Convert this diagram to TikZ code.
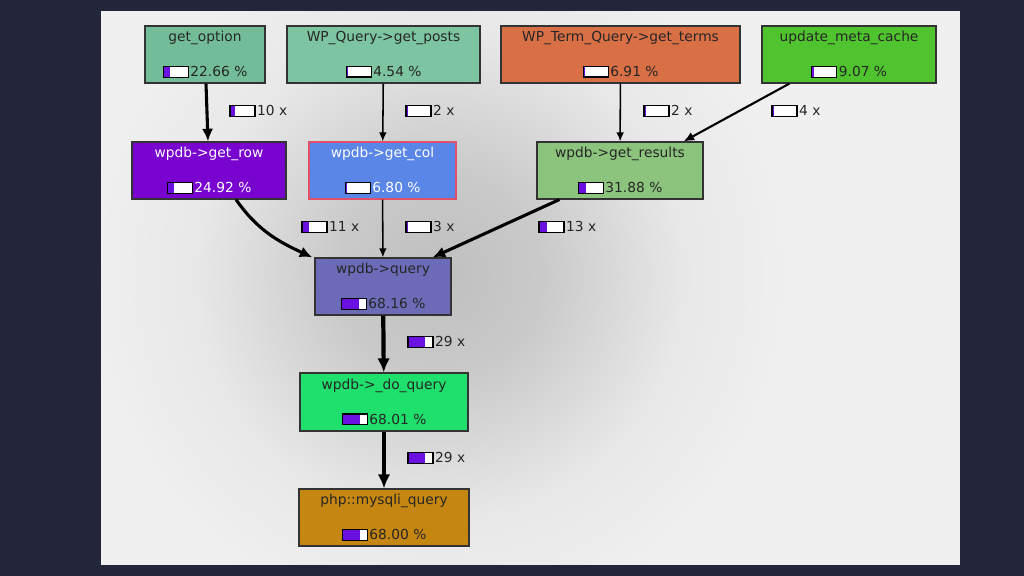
\documentclass[tikz,border=0pt]{standalone}
\usepackage{fontspec}
\setmainfont{DejaVu Sans}
\usepackage{xcolor}
\usetikzlibrary{arrows.meta,positioning}

\definecolor{bgdark}{HTML}{23263A}
\definecolor{panel}{HTML}{F0F0F0}
\definecolor{barpurple}{HTML}{6A10E0}
\definecolor{optgreen}{HTML}{72BD97}
\definecolor{postgreen}{HTML}{7DC4A0}
\definecolor{termorange}{HTML}{D86F45}
\definecolor{metagreen}{HTML}{4FC42E}
\definecolor{rowpurple}{HTML}{7A04CF}
\definecolor{colblue}{HTML}{5A86E8}
\definecolor{colred}{HTML}{E0506A}
\definecolor{resgreen}{HTML}{8CC47D}
\definecolor{queryslate}{HTML}{6B6BB8}
\definecolor{doqgreen}{HTML}{1FE06C}
\definecolor{mysqlgold}{HTML}{C68612}

\pgfdeclareradialshading{panelglow}{\pgfpoint{0bp}{0bp}}{%
  color(0bp)=(black!25); color(7bp)=(black!21); color(17bp)=(black!9); color(25bp)=(panel); color(50bp)=(panel)}

\newlength{\barw}\setlength{\barw}{17pt}
\newlength{\barh}\setlength{\barh}{6.8pt}
\newcommand{\pbar}[1]{{\setlength{\fboxsep}{0pt}\setlength{\fboxrule}{0.9pt}%
  \fcolorbox{black}{white}{\textcolor{barpurple}{\rule{#1\barw}{\barh}}\hspace*{\dimexpr\barw-#1\barw\relax}}}\hspace{1pt}}

\begin{document}
\begin{tikzpicture}[
    x=0.025cm, y=-0.025cm,
    fn/.style={rectangle, draw=black!80, line width=0.8pt, minimum height=1.425cm, align=center, inner sep=0pt, font=\fontsize{9.8}{12}\selectfont, text=black!85},
    cnt/.style={anchor=west, inner sep=0pt, font=\fontsize{9.8}{12}\selectfont, text=black!85},
    thin/.style={line width=1.1pt, -{Latex[length=6.5pt,width=5.5pt]}},
    mid/.style={line width=1.5pt, -{Latex[length=7.5pt,width=6.5pt]}},
    heavy/.style={line width=2.2pt, -{Latex[length=9pt,width=8pt]}},
    heaviest/.style={line width=3pt, -{Latex[length=10pt,width=9pt]}}
]

% backdrop and panel
\fill[bgdark] (0,0) rectangle (1024,576);
\fill[panel] (101,11) rectangle (960,565);
\begin{scope}
  \clip (102,12) rectangle (959,564);
  \shade[shading=panelglow] (440,275) circle (9cm);
\end{scope}

% Callers (top row)
\node[fn, fill=optgreen, minimum width=3cm] (gopt) at (205,54.5) {get\_option\\[12.9pt]\pbar{0.25}22.66 \%};
\node[fn, fill=postgreen, minimum width=4.825cm] (gposts) at (383.5,54.5) {WP\_Query->get\_posts\\[12.9pt]\pbar{0.03}4.54 \%};
\node[fn, fill=termorange, minimum width=5.975cm] (gterms) at (620.5,54.5) {WP\_Term\_Query->get\_terms\\[12.9pt]\pbar{0.05}6.91 \%};
\node[fn, fill=metagreen, minimum width=4.35cm] (umeta) at (849,54.5) {update\_meta\_cache\\[12.9pt]\pbar{0.07}9.07 \%};

% wpdb helpers
\node[fn, fill=rowpurple, text=white, minimum width=3.85cm] (grow) at (209,170.5) {wpdb->get\_row\\[12.9pt]\pbar{0.25}24.92 \%};
\node[fn, fill=colblue, draw=colred, text=white, minimum width=3.675cm] (gcol) at (382.5,170.5) {wpdb->get\_col\\[12.9pt]\pbar{0.06}6.80 \%};
\node[fn, fill=resgreen, minimum width=4.15cm] (gres) at (620,170.5) {wpdb->get\_results\\[12.9pt]\pbar{0.3}31.88 \%};

% query chain
\node[fn, fill=queryslate, minimum width=3.4cm] (query) at (383,286.5) {wpdb->query\\[12.9pt]\pbar{0.7}68.16 \%};
\node[fn, fill=doqgreen, minimum width=4.2cm, minimum height=1.45cm] (doq) at (384,402) {wpdb->\_do\_query\\[12.9pt]\pbar{0.7}68.01 \%};
\node[fn, fill=mysqlgold, minimum width=4.25cm] (mysqli) at (384,517.5) {php::mysqli\_query\\[12.9pt]\pbar{0.7}68.00 \%};

% call counts
\node[cnt] (c1) at (229,111) {\pbar{0.2}10 x};
\node[cnt] (c2) at (405,111) {\pbar{0.05}2 x};
\node[cnt] (c3) at (643,111) {\pbar{0.05}2 x};
\node[cnt] (c4) at (771,111) {\pbar{0.08}4 x};
\node[cnt] (c5) at (301,227) {\pbar{0.25}11 x};
\node[cnt] (c6) at (405,227) {\pbar{0.07}3 x};
\node[cnt] (c7) at (538,227) {\pbar{0.3}13 x};
\node[cnt] (c8) at (407,342) {\pbar{0.7}29 x};
\node[cnt] (c9) at (407,458) {\pbar{0.7}29 x};

% calls
\draw[heavy] (gopt) -- (grow);
\draw[thin] (gposts) -- (gcol);
\draw[thin] (gterms) -- (gres);
\draw[mid] ([xshift=0.7cm]umeta.south west) -- ([xshift=-0.5cm]gres.north east);
\draw[heavy] ([xshift=0.675cm]grow.south) to[out=-55,in=155] ([xshift=-0.05cm]query.north west);
\draw[thin] (gcol) -- (query);
\draw[heavy] ([xshift=0.575cm]gres.south west) -- ([xshift=-0.475cm]query.north east);
\draw[heaviest] (query) -- (doq);
\draw[heaviest] (doq) -- (mysqli);

\end{tikzpicture}
\end{document}
